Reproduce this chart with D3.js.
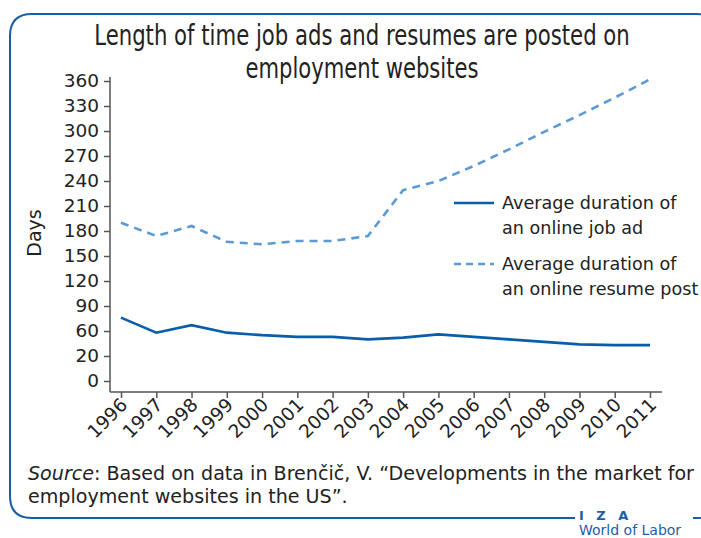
<!DOCTYPE html>
<html><head><meta charset="utf-8">
<script src="https://cdn.jsdelivr.net/npm/d3@7/dist/d3.min.js"></script>
<style>
body{margin:0;background:#fff;}
svg{display:block;}
text{font-family:"DejaVu Sans","Open Sans",sans-serif;fill:#222;}
</style></head><body>
<svg id="c" width="701" height="538"></svg>
<script>
const years = [1996,1997,1998,1999,2000,2001,2002,2003,2004,2005,2006,2007,2008,2009,2010,2011];
const jobAd = [76,58,67,58,55,53,53,50,52,56,53,50,47,44,43,43];
const resume = [190,174,186,167,164,168,168,174,229,240,258,278,299,319,340,362];
const yTickValues = [0,30,60,90,120,150,180,210,240,270,300,330,360];
const yTickLabels = ["0","20","60","90","120","150","180","210","240","270","300","330","360"];
const seriesNames = [["Average duration of","an online job ad"],["Average duration of","an online resume post"]];
const titleLines = ["Length of time job ads and resumes are posted on","employment websites"];

const svg = d3.select("#c");
const solidCol = "#0a5da8", dashCol = "#5b9ad4", frameCol = "#1b5ea8", axisCol = "#555";

// frame
const fx0=10, fy0=14, fx1=719, fy1=518, r=22;
svg.append("path")
  .attr("d", `M575,${fy1} L${fx0+r},${fy1} Q${fx0},${fy1} ${fx0},${fy1-r} L${fx0},${fy0+r} Q${fx0},${fy0} ${fx0+r},${fy0} L${fx1-r},${fy0} Q${fx1},${fy0} ${fx1},${fy0+r} L${fx1},${fy1-r} Q${fx1},${fy1} ${fx1-r},${fy1} L693,${fy1}`)
  .attr("fill","none").attr("stroke",frameCol).attr("stroke-width",2);

// title (condensed via horizontal scale)
const titleY = [45,78], titleW = [536,233];
titleLines.forEach((t,i)=>{
  const el = svg.append("text").attr("text-anchor","middle")
    .attr("font-family","Roboto,'Liberation Sans',sans-serif")
    .attr("font-size",28.5).text(t);
  const w = el.node().getComputedTextLength();
  const s = titleW[i]/w;
  el.attr("transform",`translate(362,${titleY[i]}) scale(${s},1)`);
});

const x = d3.scaleLinear().domain([1996,2011]).range([121,650]);
const y = d3.scaleLinear().domain([0,360]).range([381,81]);

// y axis
const yAxis = svg.append("g").attr("transform","translate(110,0)")
  .call(d3.axisLeft(y).tickValues(yTickValues).tickSize(6).tickPadding(5)
    .tickFormat((d,i)=>yTickLabels[i]));
yAxis.select(".domain").remove();
yAxis.selectAll(".tick line").attr("stroke",axisCol).attr("stroke-width",1.5);
yAxis.selectAll(".tick text").attr("font-size",18.5).attr("fill","#222")
  .attr("font-family","'DejaVu Sans',sans-serif");
svg.append("line").attr("x1",110).attr("x2",110).attr("y1",77).attr("y2",392)
  .attr("stroke",axisCol).attr("stroke-width",1.5);

// x axis
const xAxis = svg.append("g").attr("transform","translate(0,392)")
  .call(d3.axisBottom(x).tickValues(years).tickSize(6).tickFormat(d3.format("d")));
xAxis.select(".domain").remove();
xAxis.selectAll(".tick line").attr("stroke",axisCol).attr("stroke-width",1.5);
xAxis.selectAll(".tick text").attr("font-size",18.5).attr("fill","#222")
  .attr("font-family","'DejaVu Sans',sans-serif")
  .attr("text-anchor","end").attr("dy",null).attr("y",0)
  .attr("transform","translate(7,14) rotate(-45)");
svg.append("line").attr("x1",110).attr("x2",662).attr("y1",392).attr("y2",392)
  .attr("stroke",axisCol).attr("stroke-width",1.5);

// y label
svg.append("text").attr("transform","translate(41,233) rotate(-90)")
  .attr("text-anchor","middle").attr("font-size",19).text("Days");

// lines
const line = d3.line().x((d,i)=>x(years[i])).y(d=>y(d));
svg.append("path").datum(resume).attr("d",line).attr("fill","none")
  .attr("stroke",dashCol).attr("stroke-width",2.6).attr("stroke-dasharray","8,6");
svg.append("path").datum(jobAd).attr("d",line).attr("fill","none")
  .attr("stroke",solidCol).attr("stroke-width",2.6);

// legend
const leg = svg.append("g");
leg.append("line").attr("x1",454).attr("x2",494).attr("y1",203).attr("y2",203)
  .attr("stroke",solidCol).attr("stroke-width",2.6);
leg.append("line").attr("x1",454).attr("x2",494).attr("y1",264).attr("y2",264)
  .attr("stroke",dashCol).attr("stroke-width",2.6).attr("stroke-dasharray","7,5");
[[209,234],[270,295]].forEach((ys,k)=>{
  leg.append("text").attr("x",502).attr("y",ys[0]).attr("font-size",17.6).text(seriesNames[k][0]);
  leg.append("text").attr("x",502).attr("y",ys[1]).attr("font-size",17.6).text(seriesNames[k][1]);
});

// source
const src = svg.append("text").attr("x",28).attr("y",480).attr("font-size",19.1);
src.append("tspan").attr("font-style","italic").text("Source");
src.append("tspan").text(": Based on data in Brenčič, V. “Developments in the market for");
svg.append("text").attr("x",28).attr("y",503).attr("font-size",19.1)
  .text("employment websites in the US”.");

// IZA logo
svg.append("text").attr("x",579).attr("y",520).attr("font-size",13).attr("font-weight","bold")
  .style("fill",frameCol).attr("letter-spacing",4).text("I Z A");
svg.append("text").attr("x",579).attr("y",535).attr("font-size",14)
  .attr("font-family","'Open Sans',sans-serif")
  .style("fill",frameCol).text("World of Labor");
</script>
</body></html>
